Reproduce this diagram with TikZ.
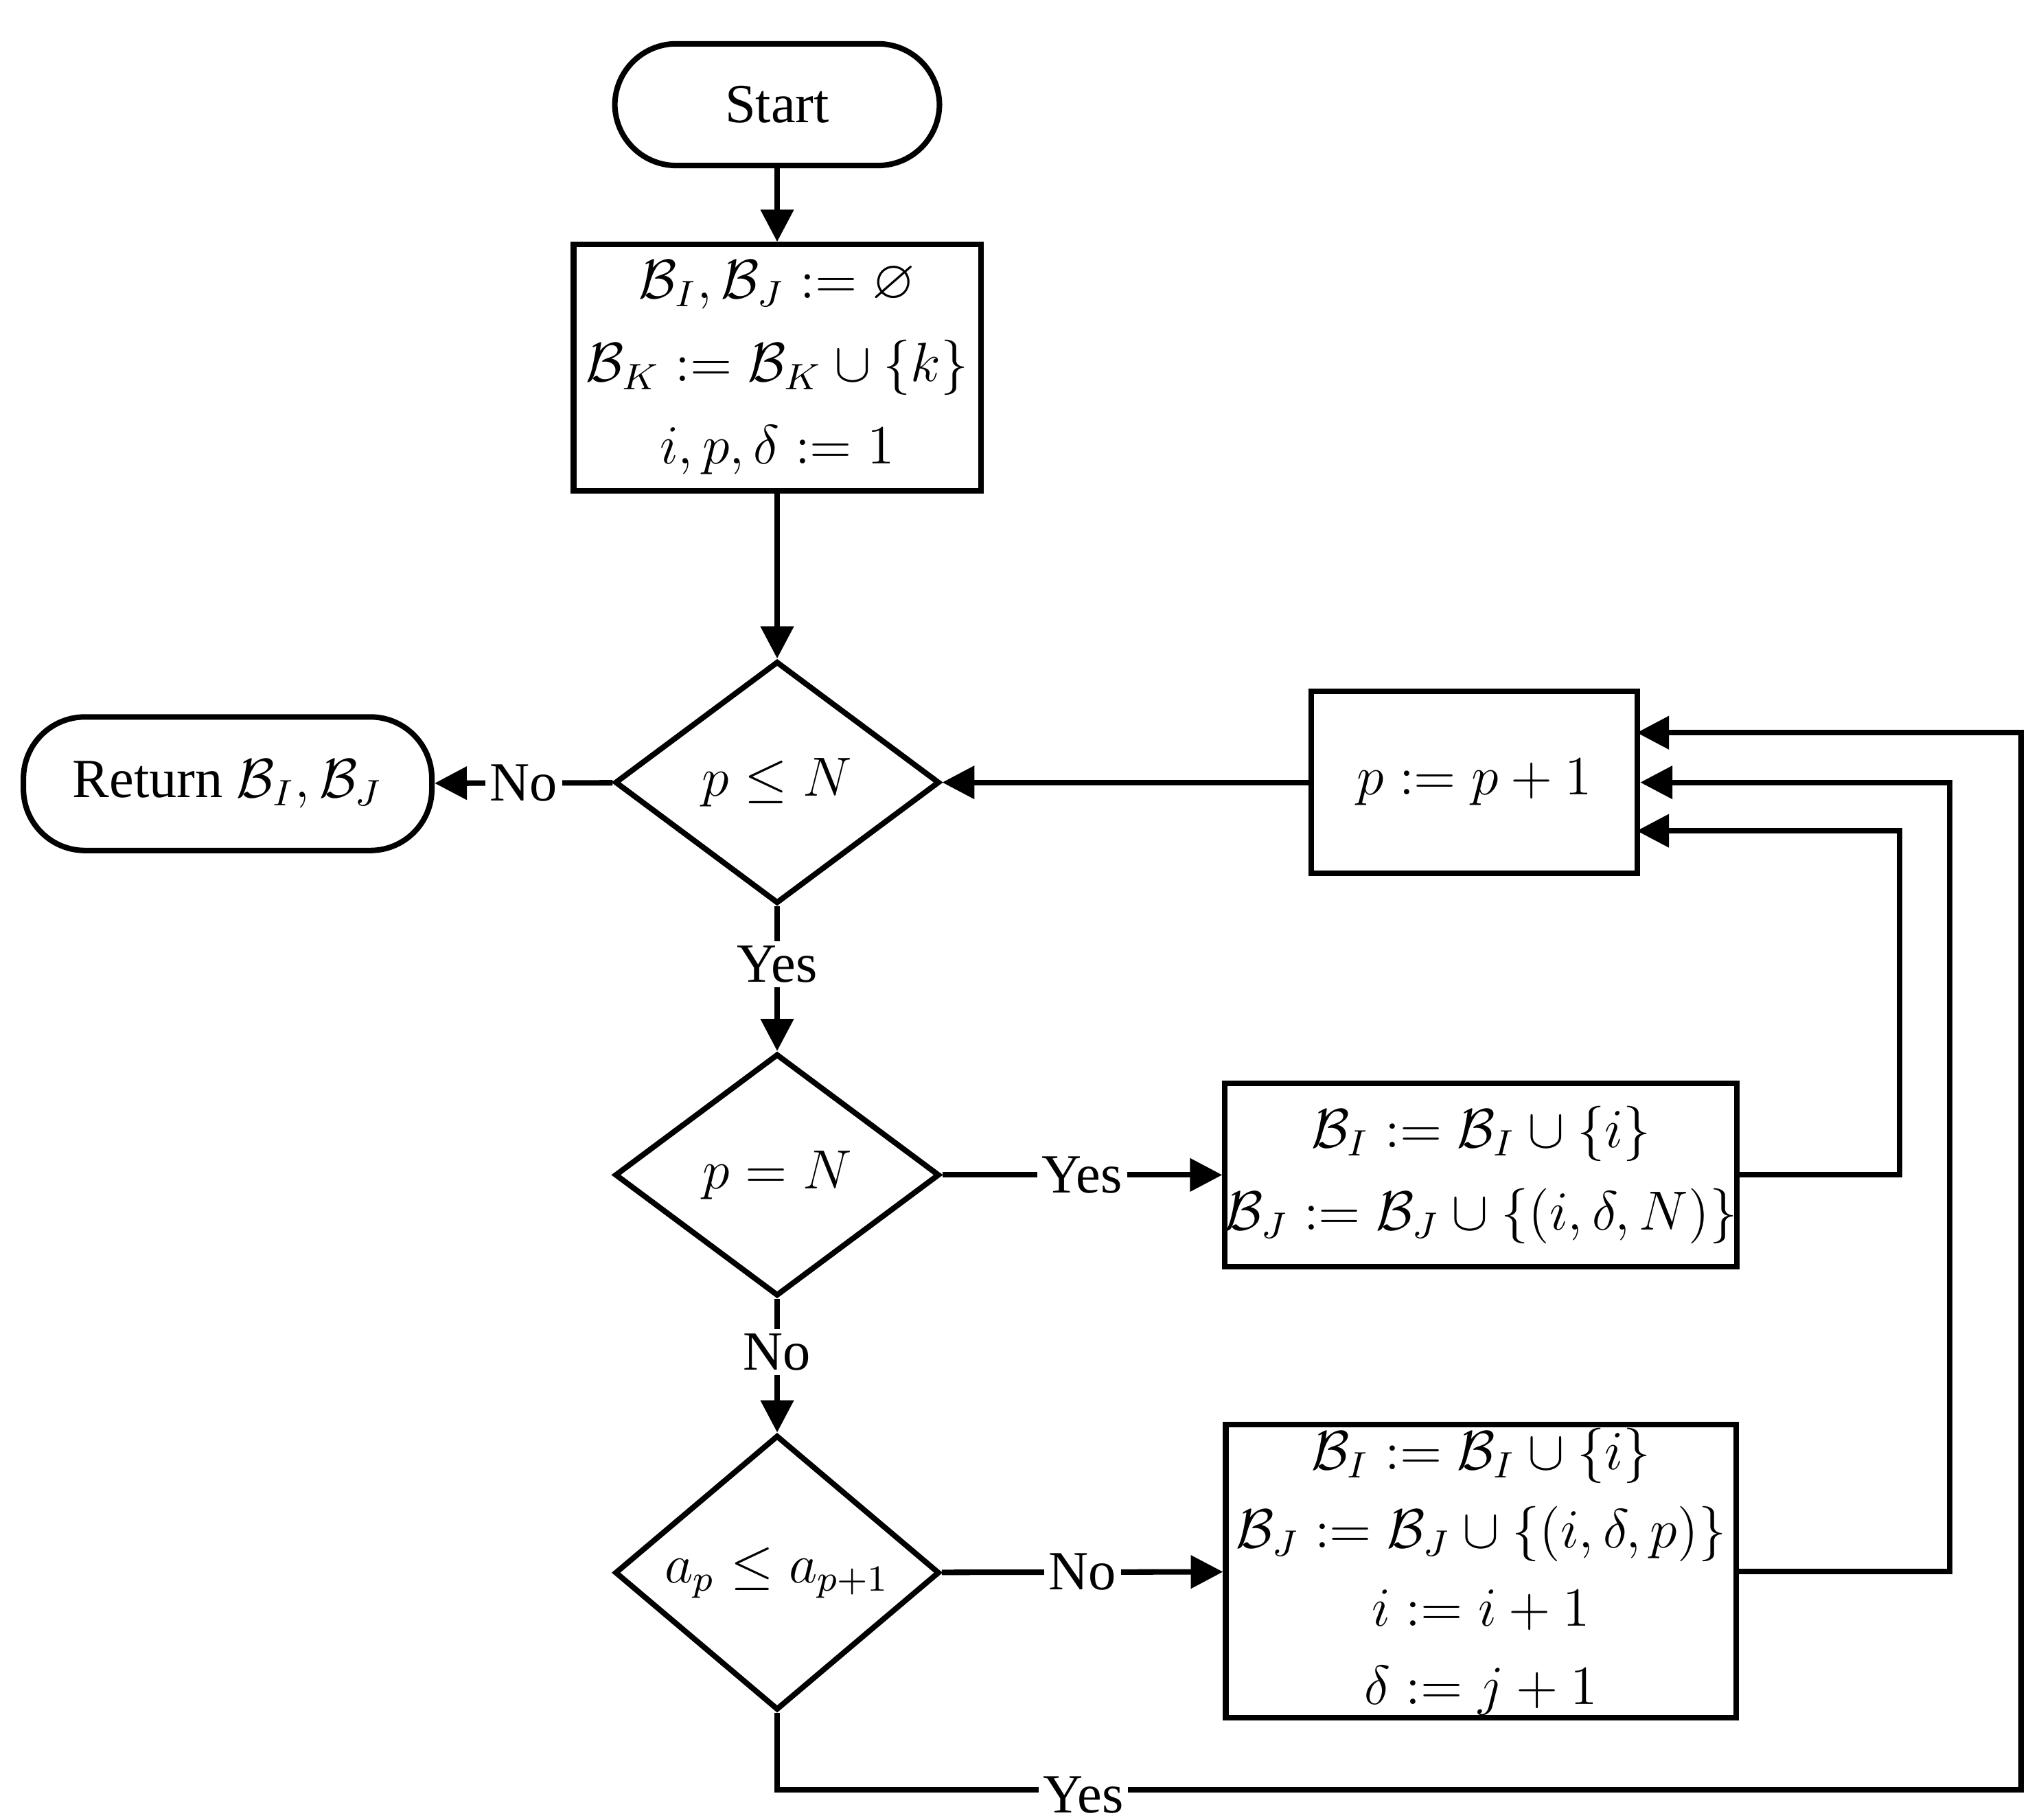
\documentclass[tikz,border=0pt]{standalone}
\usepackage{amssymb}
\usepackage{fontspec}
\setmainfont{Liberation Serif}
\usetikzlibrary{shapes.geometric,arrows.meta}
\begin{document}
\begin{tikzpicture}[x=0.01cm,y=-0.01cm,
  every node/.style={font=\fontsize{12}{15}\selectfont},
  line/.style={line width=1.2pt},
  arr/.style={line width=1.2pt,-{Triangle[length=7pt,width=7pt]}},
  term/.style={draw,line width=1.2pt,rounded corners=0.47cm,inner sep=0},
  box/.style={draw,line width=1.2pt,inner sep=0,align=center},
  dia/.style={draw,diamond,line width=1.2pt,inner sep=0,minimum width=2.48cm,minimum height=1.85cm},
  lab/.style={fill=white,inner sep=1pt}]
\useasboundingbox (0,0) rectangle (1560,1391);
\node[term,minimum width=2.48cm,minimum height=0.93cm] (start) at (594,80) {Start};
\node[box,minimum width=3.11cm,minimum height=1.88cm] (init) at (594,281)
  {$\mathcal{B}_I,\mathcal{B}_J \mathrel{:=} \varnothing$\\[3pt]
   $\mathcal{B}_K \mathrel{:=} \mathcal{B}_K \cup \{k\}$\\[3pt]
   $i,p,\delta \mathrel{:=} 1$};
\node[dia] (d1) at (594,598) {$p \le N$};
\node[term,minimum width=3.12cm,minimum height=1.02cm] (ret) at (174,599) {Return $\mathcal{B}_I,\mathcal{B}_J$};
\node[box,minimum width=2.49cm,minimum height=1.39cm] (inc) at (1127,598) {$p \mathrel{:=} p+1$};
\node[dia] (d2) at (594,898) {$p = N$};
\node[box,minimum width=3.90cm,minimum height=1.40cm] (b3) at (1132,898)
  {$\mathcal{B}_I \mathrel{:=} \mathcal{B}_I \cup \{i\}$\\[3pt]
   $\mathcal{B}_J \mathrel{:=} \mathcal{B}_J \cup \{(i,\delta,N)\}$};
\node[dia] (d3) at (594,1202) {$a_p \le a_{p+1}$};
\node[box,minimum width=3.90cm,minimum height=2.24cm] (b4) at (1132,1201)
  {$\mathcal{B}_I \mathrel{:=} \mathcal{B}_I \cup \{i\}$\\[2pt]
   $\mathcal{B}_J \mathrel{:=} \mathcal{B}_J \cup \{(i,\delta,p)\}$\\[2pt]
   $i \mathrel{:=} i+1$\\[2pt]
   $\delta \mathrel{:=} j+1$};
\draw[arr] (start) -- (init);
\draw[arr] (init) -- (d1);
\draw[arr] (d1) -- node[lab]{No} (ret);
\draw[arr] (d1) -- node[lab,pos=0.4]{Yes} (d2);
\draw[arr] (inc) -- (d1);
\draw[arr] (d2) -- node[lab]{Yes} (b3);
\draw[arr] (d2) -- node[lab,pos=0.4]{No} (d3);
\draw[arr] (d3) -- node[lab]{No} (b4);
\coordinate (a1) at (1452,898); \coordinate (a2) at (1452,635);
\coordinate (t1) at (1251,635);
\draw[arr] (b3.east) -- (a1) -- (a2) -- (t1);
\coordinate (c1) at (1490,1201); \coordinate (c2) at (1490,598);
\draw[arr] (b4.east) -- (c1) -- (c2) -- (inc.east);
\coordinate (e1) at (594,1368); \coordinate (e2) at (1545,1368);
\coordinate (e3) at (1545,560); \coordinate (t3) at (1251,560);
\draw[arr] (d3.south) -- (e1) -- (e2) -- (e3) -- (t3);
\node[lab] (ylab) at (828,1372) {Yes};
\end{tikzpicture}
\end{document}
